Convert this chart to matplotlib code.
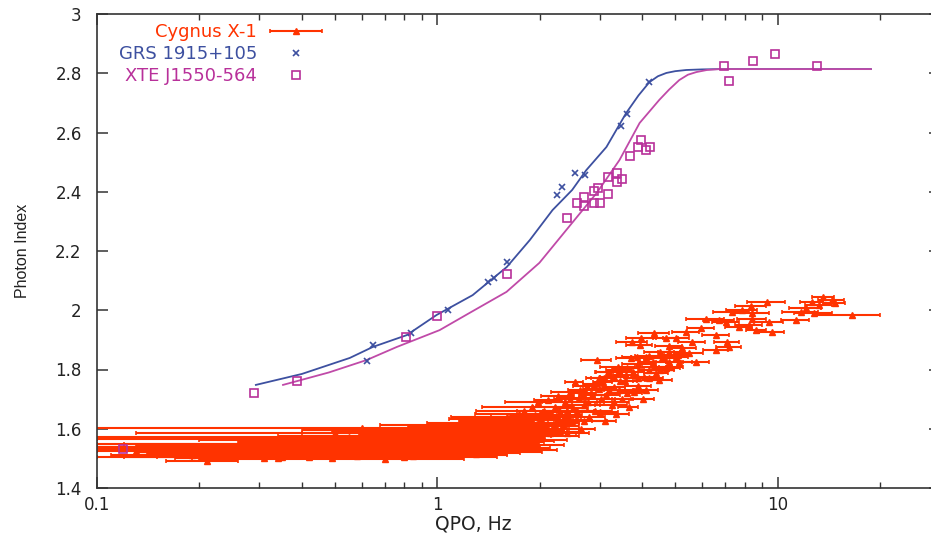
import numpy as np
import matplotlib.pyplot as plt
from matplotlib.container import ErrorbarContainer
from matplotlib.legend_handler import HandlerErrorbar
from matplotlib.ticker import FixedLocator, NullFormatter

plt.rcParams['font.family'] = ['DejaVu Sans']

red = '#ff3300'
blue = '#3d50a0'
magenta = '#b8309a'

# fitted curves
grs_fit_x = [0.293, 0.40, 0.553, 0.646, 0.813, 0.995, 1.27, 1.60, 1.87, 2.18,
             2.49, 2.74, 3.14, 3.59, 3.90, 4.20, 4.45, 4.71, 5.00, 5.39,
             6.00, 6.74, 18.8]
grs_fit_y = [1.748, 1.785, 1.839, 1.876, 1.916, 1.984, 2.051, 2.146, 2.237, 2.338,
             2.406, 2.473, 2.551, 2.666, 2.725, 2.770, 2.790, 2.801, 2.807, 2.811,
             2.813, 2.814, 2.814]
xte_fit_x = [0.352, 0.48, 0.620, 0.760, 1.016, 1.244, 1.597, 1.995, 2.49, 2.94,
             3.43, 3.93, 4.49, 4.80, 5.14, 5.45, 5.77, 6.20, 6.74, 18.8]
xte_fit_y = [1.748, 1.790, 1.832, 1.876, 1.933, 1.991, 2.062, 2.160, 2.295, 2.396,
             2.507, 2.632, 2.710, 2.745, 2.777, 2.795, 2.804, 2.811, 2.814, 2.814]

# GRS 1915+105
grs_x = [0.620, 0.646, 0.835, 1.072, 1.405, 1.472, 1.597, 2.24, 2.32, 2.53,
         2.72, 3.47, 3.62, 4.20]
grs_y = [1.829, 1.883, 1.923, 2.001, 2.095, 2.109, 2.163, 2.389, 2.416, 2.463,
         2.457, 2.622, 2.662, 2.770]

# XTE J1550-564
xte_x = [0.119, 0.289, 0.386, 0.807, 0.995, 1.597, 2.40, 2.58, 2.69, 2.69,
         2.88, 3.01, 2.88, 2.97, 3.18, 3.18, 3.38, 3.38, 3.50, 3.69,
         3.90, 3.98, 4.11, 4.23, 6.97, 7.21, 8.48, 9.84, 13.06]
xte_y = [1.532, 1.721, 1.761, 1.910, 1.981, 2.122, 2.311, 2.362, 2.352, 2.382,
         2.362, 2.362, 2.403, 2.413, 2.392, 2.450, 2.463, 2.433, 2.443, 2.521,
         2.551, 2.575, 2.541, 2.551, 2.824, 2.774, 2.841, 2.865, 2.824]

# Cygnus X-1, low/hard branch
cyg_low_x = [0.13, 0.16, 0.19, 0.21, 0.24, 0.26, 0.28, 0.31, 0.33, 0.34,
             0.36, 0.38, 0.40, 0.42, 0.44, 0.46, 0.48, 0.49, 0.50, 0.52,
             0.55, 0.56, 0.58, 0.60, 0.62, 0.64, 0.66, 0.68, 0.70, 0.72,
             0.74, 0.76, 0.78, 0.80, 0.82, 0.84, 0.86, 0.88, 0.90, 0.92,
             0.94, 0.96, 0.98, 1.00, 1.02, 1.04, 1.06, 1.08, 1.10, 1.12,
             1.14, 1.16, 1.18, 1.20, 1.22, 1.24, 1.26, 1.28, 1.30, 1.32,
             1.34, 1.36, 1.38, 1.40, 1.42, 1.44, 1.46, 1.48, 1.50, 1.52,
             1.54, 1.56, 1.58, 1.60]
cyg_low_y = [1.525, 1.538, 1.510, 1.490, 1.530, 1.515, 1.545, 1.500, 1.522, 1.500,
             1.535, 1.512, 1.548, 1.505, 1.528, 1.555, 1.518, 1.500, 1.585, 1.540,
             1.572, 1.525, 1.508, 1.603, 1.545, 1.532, 1.515, 1.560, 1.498, 1.538,
             1.575, 1.522, 1.550, 1.505, 1.565, 1.590, 1.540, 1.528, 1.555, 1.512,
             1.580, 1.545, 1.600, 1.530, 1.565, 1.548, 1.585, 1.520, 1.570, 1.538,
             1.600, 1.555, 1.612, 1.528, 1.580, 1.545, 1.595, 1.562, 1.515, 1.605,
             1.575, 1.540, 1.620, 1.555, 1.590, 1.568, 1.530, 1.610, 1.582, 1.548,
             1.625, 1.600, 1.565, 1.640]
cyg_low_err = [0.03, 0.06, 0.08, 0.05, 0.10, 0.12, 0.15, 0.14, 0.20, 0.10,
               0.22, 0.25, 0.28, 0.30, 0.33, 0.20, 0.12, 0.30, 0.37, 0.42,
               0.50, 0.25, 0.45, 0.58, 0.40, 0.55, 0.30, 0.35, 0.50, 0.35,
               0.40, 0.42, 0.20, 0.70, 0.45, 0.35, 0.30, 0.60, 0.45, 0.40,
               0.35, 0.35, 0.40, 0.55, 0.45, 0.25, 0.35, 0.95, 0.40, 0.30,
               0.45, 0.50, 0.50, 0.45, 0.35, 0.60, 0.40, 0.60, 0.30, 0.50,
               0.25, 0.65, 0.45, 0.35, 0.60, 0.40, 0.28, 0.55, 0.30, 0.45,
               0.38, 0.50, 0.30, 0.50]

cyg_low2_x = [0.35, 0.45, 0.55, 0.65, 0.75, 0.85, 0.95, 1.05, 1.15, 1.25,
              1.35, 1.45, 1.55, 1.65, 1.75, 1.85, 1.95, 2.05, 2.15, 2.25,
              0.50, 0.60, 0.70, 0.80, 0.90, 1.00, 1.10, 1.20, 1.30, 1.40,
              1.50, 1.60, 1.70, 1.80, 1.90, 2.00, 2.10, 2.20, 2.30, 2.40]
cyg_low2_y = [1.505, 1.562, 1.518, 1.595, 1.535, 1.508, 1.552, 1.598, 1.518, 1.588,
              1.552, 1.602, 1.528, 1.572, 1.545, 1.595, 1.562, 1.620, 1.585, 1.600,
              1.531, 1.548, 1.585, 1.527, 1.596, 1.565, 1.512, 1.575, 1.588, 1.535,
              1.615, 1.592, 1.560, 1.628, 1.600, 1.575, 1.645, 1.610, 1.590, 1.660]
cyg_low2_err = [0.20, 0.25, 0.35, 0.25, 0.50, 0.40, 0.45, 0.45, 0.60, 0.45,
                0.60, 0.50, 0.70, 0.40, 0.60, 0.50, 0.45, 0.55, 0.40, 0.35,
                0.45, 0.50, 0.30, 0.70, 0.40, 0.90, 0.50, 0.60, 0.60, 0.75,
                0.55, 0.45, 0.50, 0.40, 0.45, 0.60, 0.35, 0.40, 0.30, 0.35]

# Cygnus X-1, transition
cyg_mid_x = [1.62, 1.64, 1.66, 1.68, 1.70, 1.72, 1.74, 1.76, 1.78, 1.80,
             1.82, 1.84, 1.86, 1.88, 1.90, 1.92, 1.94, 1.96, 1.98, 2.00,
             2.03, 2.06, 2.09, 2.12, 2.15, 2.18, 2.21, 2.24, 2.27, 2.30,
             2.34, 2.38, 2.42, 2.46, 2.50, 2.53, 2.55, 2.60, 2.62, 2.65,
             2.70, 2.75, 2.80, 2.85, 2.90, 2.94, 2.98, 3.02, 3.06, 3.10,
             3.14, 3.18, 3.20, 3.25, 3.30, 3.35, 3.40, 3.43, 3.43, 3.50,
             3.55, 3.59, 3.65, 3.70, 3.74, 3.78, 3.85, 3.90, 3.93, 3.98,
             4.02, 4.11, 4.11, 4.20, 4.29, 4.34, 4.40, 4.49, 4.58, 4.71]
cyg_mid_y = [1.580, 1.615, 1.555, 1.632, 1.598, 1.570, 1.650, 1.620, 1.585, 1.660,
             1.605, 1.640, 1.575, 1.628, 1.672, 1.595, 1.648, 1.615, 1.690, 1.630,
             1.580, 1.660, 1.612, 1.697, 1.645, 1.600, 1.675, 1.630, 1.710, 1.655,
             1.615, 1.690, 1.645, 1.725, 1.670, 1.758, 1.630, 1.705, 1.731, 1.600,
             1.680, 1.745, 1.640, 1.715, 1.660, 1.832, 1.770, 1.700, 1.758, 1.625,
             1.714, 1.790, 1.792, 1.680, 1.740, 1.650, 1.810, 1.798, 1.731, 1.700,
             1.760, 1.781, 1.675, 1.840, 1.893, 1.725, 1.842, 1.770, 1.883, 1.906,
             1.700, 1.842, 1.731, 1.800, 1.825, 1.923, 1.788, 1.765, 1.839, 1.805]
cyg_mid_err = [0.35, 0.28, 0.40, 0.60, 0.30, 0.25, 0.45, 0.35, 0.30, 0.50,
               0.25, 0.40, 0.30, 0.35, 0.55, 0.28, 0.30, 0.45, 0.40, 0.30,
               0.25, 0.35, 0.30, 0.20, 0.40, 0.25, 0.30, 0.35, 0.25, 0.30,
               0.20, 0.35, 0.25, 0.30, 0.28, 0.15, 0.25, 0.30, 0.20, 0.25,
               0.30, 0.25, 0.30, 0.25, 0.35, 0.30, 0.25, 0.30, 0.20, 0.25,
               0.30, 0.25, 0.30, 0.35, 0.25, 0.30, 0.40, 0.30, 0.35, 0.25,
               0.30, 0.30, 0.25, 0.35, 0.40, 0.30, 0.35, 0.30, 0.35, 0.40,
               0.30, 0.40, 0.35, 0.30, 0.40, 0.45, 0.35, 0.40, 0.40, 0.45]

cyg_mid2_x = [2.35, 2.45, 2.58, 2.68, 2.78, 2.88, 2.98, 3.08, 3.20, 3.30,
              3.45, 3.60, 3.75, 3.90, 4.05, 4.20, 4.35, 4.50, 4.65, 4.80,
              2.40, 2.70, 3.00, 3.30, 3.60, 3.90, 4.20, 4.50, 4.80, 5.10]
cyg_mid2_y = [1.640, 1.700, 1.660, 1.722, 1.690, 1.752, 1.735, 1.770, 1.730, 1.775,
              1.760, 1.805, 1.790, 1.818, 1.775, 1.845, 1.808, 1.860, 1.842, 1.880,
              1.585, 1.625, 1.655, 1.690, 1.720, 1.745, 1.770, 1.800, 1.825, 1.850]
cyg_mid2_err = [0.30, 0.25, 0.30, 0.25, 0.30, 0.20, 0.30, 0.25, 0.35, 0.30,
                0.30, 0.35, 0.30, 0.40, 0.35, 0.40, 0.35, 0.45, 0.40, 0.45,
                0.40, 0.45, 0.40, 0.35, 0.40, 0.35, 0.40, 0.45, 0.40, 0.45]

# Cygnus X-1, soft plateau
cyg_high_x = [4.71, 4.80, 4.87, 5.04, 5.04, 5.14, 5.25, 5.39, 5.50, 5.61,
              5.77, 5.97, 6.17, 6.60, 6.60, 6.74, 7.06, 7.11, 7.21, 7.36,
              7.71, 7.87, 8.25, 8.37, 8.42, 8.42, 8.65, 9.32, 9.44, 9.64,
              11.3, 11.7, 12.1, 12.6, 12.8, 13.2, 13.6, 14.4, 14.7, 16.5]
cyg_high_y = [1.906, 1.860, 1.808, 1.906, 1.842, 1.825, 1.873, 1.927, 1.856, 1.893,
              1.825, 1.940, 1.970, 1.916, 1.866, 1.967, 1.960, 1.893, 1.876, 1.994,
              1.943, 2.001, 1.950, 2.014, 1.991, 1.970, 1.933, 2.028, 1.960, 1.927,
              1.967, 1.994, 2.008, 2.028, 1.991, 2.018, 2.045, 2.035, 2.024, 1.984]
cyg_high_err = [0.40, 0.35, 0.40, 0.45, 0.40, 0.45, 0.50, 0.50, 0.55, 0.50,
                0.50, 0.55, 0.80, 0.60, 0.55, 0.70, 0.65, 0.60, 0.60, 0.90,
                0.70, 0.80, 0.75, 0.90, 1.00, 0.80, 0.60, 1.20, 0.90, 0.80,
                1.10, 1.40, 1.30, 1.00, 1.60, 1.20, 1.00, 1.30, 1.10, 3.50]

cyg_x = cyg_low_x + cyg_low2_x + cyg_mid_x + cyg_mid2_x + cyg_high_x
cyg_y = cyg_low_y + cyg_low2_y + cyg_mid_y + cyg_mid2_y + cyg_high_y
cyg_err = cyg_low_err + cyg_low2_err + cyg_mid_err + cyg_mid2_err + cyg_high_err

fig = plt.figure(figsize=(9.31, 5.36), dpi=100)
ax = fig.add_axes([97 / 931, 48 / 536, 843 / 931, 474 / 536])

cyg = ax.errorbar(cyg_x, cyg_y, xerr=cyg_err, fmt='^', color=red, ms=5,
                  elinewidth=1.5, capsize=1.5, capthick=1.2, zorder=2)
ax.plot(grs_fit_x, grs_fit_y, color=blue, lw=1.3, zorder=3)
ax.plot(xte_fit_x, xte_fit_y, color='#c04aa8', lw=1.3, zorder=3)
grs, = ax.plot(grs_x, grs_y, 'x', color=blue, ms=5, mew=1.2, zorder=4)
xte, = ax.plot(xte_x, xte_y, 's', color=magenta, ms=6, mfc='none', mew=1.2, zorder=4)

ax.set_xscale('log')
ax.set_xlim(0.1, 30)
ax.set_ylim(1.4, 3.0)
ax.set_yticks(np.arange(1.4, 3.01, 0.2))
ax.set_yticklabels(['1.4', '1.6', '1.8', '2', '2.2', '2.4', '2.6', '2.8', '3'])
ax.set_xticks([0.1, 1, 10])
ax.set_xticklabels(['0.1', '1', '10'])
minors = [m * d for d in (0.1, 1, 10) for m in range(2, 10)]
ax.xaxis.set_minor_locator(FixedLocator(minors))
ax.xaxis.set_minor_formatter(NullFormatter())

for s in ax.spines.values():
    s.set_color('#333333')
    s.set_linewidth(1.2)
ax.tick_params(which='both', direction='in', top=True, right=True, colors='#333333',
               labelcolor='#222222', labelsize=12)
ax.tick_params(which='major', length=8, width=1.1)
ax.tick_params(which='minor', length=4, width=1.0)
ax.tick_params(axis='x', which='major', pad=6)
ax.tick_params(axis='y', which='major', pad=11)

ax.set_xlabel('QPO, Hz', fontsize=13.5, color='#222222')
ax.set_ylabel('Photon Index', fontsize=11.5, color='#222222', family='Liberation Sans')
ax.xaxis.set_label_coords((473 - 97) / 843, -0.055)
ax.yaxis.set_label_coords(-(97 - 30) / 843, 0.5)

leg = ax.legend([cyg, grs, xte], ['Cygnus X-1', 'GRS 1915+105', 'XTE J1550-564'],
                loc='upper right', bbox_to_anchor=(323 / 931, 1 - 23 / 536),
                bbox_transform=fig.transFigure, markerfirst=False, frameon=False,
                fontsize=13, handlelength=3.0, handletextpad=0.65, labelspacing=0.22,
                borderpad=0, borderaxespad=0, numpoints=1,
                handler_map={ErrorbarContainer: HandlerErrorbar(xerr_size=1.45)})
for t, c in zip(leg.get_texts(), [red, blue, magenta]):
    t.set_color(c)

fig.savefig('out.png', dpi=100)
